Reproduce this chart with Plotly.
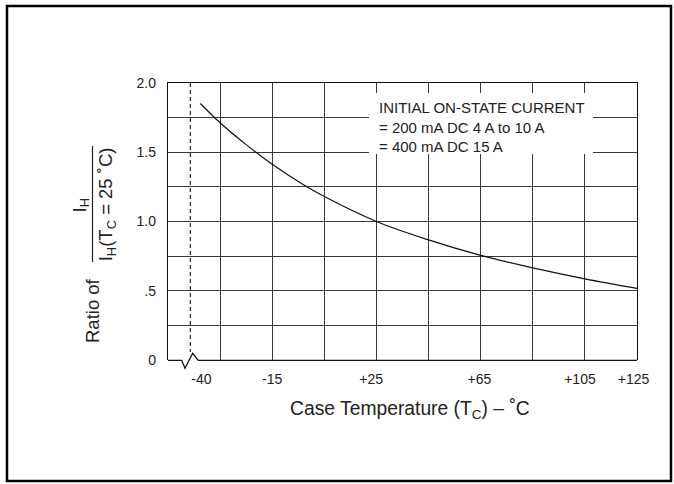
import plotly.graph_objects as go

# ---- data ----
temps = [-42.6, -35, -25, -15, -3, 5, 25, 45, 65, 85, 105, 125]
ratio = [1.852, 1.713, 1.555, 1.413, 1.265, 1.18, 1.0, 0.867, 0.755, 0.665, 0.586, 0.517]

x_tick_pos = [-42.2, -15.05, 23.0, 64.5, 103.1, 123.7]
x_tick_text = ["-40", "-15", "+25", "+65", "+105", "+125"]
x_grid = [-35, -15, 5, 25, 45, 65, 85, 105]
y_tick_vals = [0, 0.5, 1.0, 1.5, 2.0]
y_tick_text = ["0", ".5", "1.0", "1.5", "2.0"]
y_grid = [0.25, 0.5, 0.75, 1.0, 1.25, 1.5, 1.75]

note_lines = ["INITIAL ON-STATE CURRENT", "= 200 mA DC 4 A to 10 A", "= 400 mA DC 15 A"]

FONT = "Liberation Sans, Arial, Helvetica, sans-serif"
TXT = "#222222"
GRID = "#3a3a3a"

W, H = 674, 484
L, T, PW, PH = 168, 83, 469, 277


def px(xp):
    return (xp - L) / PW


def py(yp):
    return (T + PH - yp) / PH


fig = go.Figure()
fig.add_trace(go.Scatter(x=temps, y=ratio, mode="lines",
                         line=dict(color="#111111", width=1.2, shape="spline", smoothing=1.0),
                         hoverinfo="skip", showlegend=False))
# helper invisible trace to carry the grid axes
fig.add_trace(go.Scatter(x=[temps[0]], y=[ratio[0]], xaxis="x2", yaxis="y2", mode="markers",
                         marker=dict(opacity=0), hoverinfo="skip", showlegend=False))

fig.update_layout(
    width=W, height=H,
    margin=dict(l=L, r=W - L - PW, t=T, b=H - T - PH, pad=0),
    paper_bgcolor="white", plot_bgcolor="white",
    font=dict(family=FONT, color=TXT, size=14),
    xaxis=dict(range=[-55, 125], tickmode="array", tickvals=x_tick_pos, ticktext=x_tick_text,
               showgrid=False, zeroline=False, showline=False, ticks="", ticklabelstandoff=9,
               tickfont=dict(size=14, color=TXT, family=FONT)),
    xaxis2=dict(range=[-55, 125], overlaying="x", side="top", tickmode="array", tickvals=x_grid,
                showticklabels=False, showgrid=True, gridcolor=GRID, gridwidth=1.3, zeroline=False,
                showline=True, linecolor="#111111", linewidth=1.3, ticks=""),
    yaxis=dict(range=[0, 2], tickmode="array", tickvals=y_tick_vals, ticktext=y_tick_text,
               showgrid=False, zeroline=False, showline=True, mirror=True, linecolor="#111111",
               linewidth=1.3, ticks="", ticklabelstandoff=8,
               tickfont=dict(size=14, color=TXT, family=FONT)),
    yaxis2=dict(range=[0, 2], overlaying="y", tickmode="array", tickvals=y_grid, showticklabels=False,
                showgrid=True, gridcolor=GRID, gridwidth=1.3, zeroline=False, showline=False, ticks=""),
)

shapes = []
# outer frame
shapes.append(dict(type="rect", xref="paper", yref="paper", x0=px(7), x1=px(671), y0=py(6), y1=py(481),
                   line=dict(color="black", width=2.5), fillcolor="rgba(0,0,0,0)", layer="above"))
# broken bottom axis with zigzag
zig = [(L, 360.3), (181.7, 360.3), (185, 368.3), (192.7, 353.3), (198.3, 360.3), (L + PW, 360.3)]
path = "M " + " L ".join(f"{px(a):.4f},{py(b):.4f}" for a, b in zig)
shapes.append(dict(type="path", xref="paper", yref="paper", path=path,
                   line=dict(color="#111111", width=1.3), layer="above"))
# dashed break line
shapes.append(dict(type="line", xref="paper", yref="paper", x0=px(190.3), x1=px(190.3), y0=1, y1=py(352),
                   line=dict(color="#111111", width=1.1, dash="4px,3px"), layer="above"))
# white box behind note
shapes.append(dict(type="rect", xref="paper", yref="paper", x0=px(369), x1=px(593), y0=py(93), y1=py(154),
                   line=dict(width=0), fillcolor="white", layer="above"))
# fraction bar of the y title
shapes.append(dict(type="line", xref="paper", yref="paper", x0=px(92.5), x1=px(92.5), y0=py(146), y1=py(262),
                   line=dict(color=TXT, width=1.2)))
fig.update_layout(shapes=shapes)

ann = []
ann.append(dict(text="<br>".join(note_lines), xref="paper", yref="paper", x=px(377), y=py(97),
                xanchor="left", yanchor="top", align="left", showarrow=False,
                font=dict(size=15, color=TXT, family=FONT)))
ann.append(dict(text="Case Temperature (T<sub>C</sub>) – ˚C", xref="paper", yref="paper",
                x=px(410.3), y=py(410), xanchor="center", yanchor="middle", showarrow=False,
                font=dict(size=19.3, color=TXT, family=FONT)))
ann.append(dict(text="Ratio of", xref="paper", yref="paper", x=px(92.5), y=py(310.5), textangle=-90,
                xanchor="center", yanchor="middle", showarrow=False, font=dict(size=18.5, color=TXT, family=FONT)))
ann.append(dict(text="I<sub>H</sub>", xref="paper", yref="paper", x=px(80.5), y=py(206), textangle=-90,
                xanchor="center", yanchor="middle", showarrow=False, font=dict(size=18.5, color=TXT, family=FONT)))
ann.append(dict(text="I<sub>H</sub>(T<sub>C</sub> = 25 ˚C)", xref="paper", yref="paper", x=px(106.8), y=py(204.5),
                textangle=-90, xanchor="center", yanchor="middle", showarrow=False,
                font=dict(size=18.5, color=TXT, family=FONT)))
fig.update_layout(annotations=ann)

fig.write_html("out.html", config={"displayModeBar": False},
               post_script="document.body.style.margin='0';document.body.style.overflow='hidden';")
